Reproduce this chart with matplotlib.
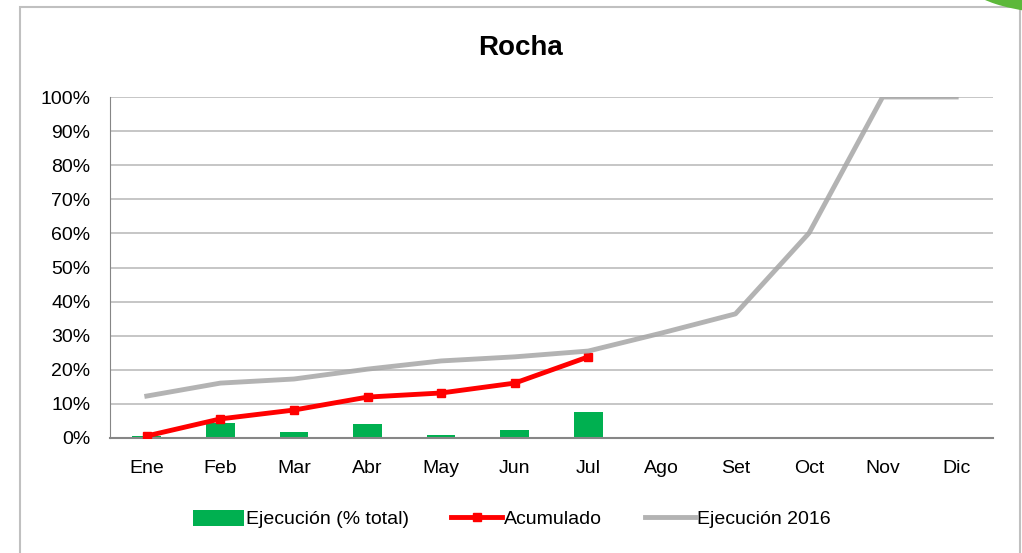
import numpy as np
import matplotlib.pyplot as plt
from matplotlib.patches import Rectangle, Ellipse

meses = ['Ene', 'Feb', 'Mar', 'Abr', 'May', 'Jun', 'Jul', 'Ago', 'Set', 'Oct', 'Nov', 'Dic']
ejecucion = [0.7, 4.5, 1.8, 4.0, 0.8, 2.3, 7.6]
acumulado = [0.6, 5.6, 8.2, 12.0, 13.2, 16.1, 23.8]
ejec_2016 = [12.3, 16.1, 17.3, 20.2, 22.6, 23.8, 25.5, 30.8, 36.4, 60.1, 100, 100]

plt.rcParams['font.family'] = ['Liberation Sans', 'DejaVu Sans']

fig = plt.figure(figsize=(10.22, 5.53), dpi=100)
ax = fig.add_axes([110/1022, 1-438/553, 883/1022, 341/553])

# outer frame of the chart + green corner
fig.patches.append(Rectangle((20/1022, -0.05), 1000/1022, 1.05-7/553, transform=fig.transFigure,
                             fill=False, edgecolor='#c0c0c0', linewidth=1.5))
fig.patches.append(Ellipse((1070/1022, 1+20/553), 210/1022, 68/553, transform=fig.transFigure,
                           facecolor='#5cb83a', edgecolor='none'))

x = np.arange(len(meses))
b = ax.bar(x[:len(ejecucion)], ejecucion, width=0.39, color='#00b050', zorder=2,
           label='Ejecución (% total)')
l1, = ax.plot(x[:len(acumulado)], acumulado, color='#ff0000', linewidth=3.5, marker='s',
              markersize=6, zorder=4, label='Acumulado')
l2, = ax.plot(x, ejec_2016, color='#a6a6a6', linewidth=3.5, alpha=0.85, zorder=5,
              label='Ejecución 2016')

ax.set_xlim(-0.5, 11.5)
ax.set_ylim(0, 100)
ax.set_yticks(np.arange(0, 101, 10))
ax.set_yticklabels([f'{v}%' for v in range(0, 101, 10)], fontsize=14)
ax.set_xticks(x)
ax.set_xticklabels(meses, fontsize=14)
ax.tick_params(axis='y', length=0, pad=14)
ax.tick_params(axis='x', length=0, pad=16)
ax.yaxis.grid(True, color='#bcbcbc', linewidth=1.2)
ax.set_axisbelow(True)
for s in ['top', 'right']:
    ax.spines[s].set_visible(False)
ax.spines['left'].set_color('#868686')
ax.spines['bottom'].set_color('#868686')
ax.spines['bottom'].set_linewidth(1.5)

fig.text(520/1022, 1-48/553, 'Rocha', ha='center', va='center', fontsize=20, fontweight='bold')

fig.legend([b, l1, l2], ['Ejecución (% total)', 'Acumulado', 'Ejecución 2016'],
           loc='center', bbox_to_anchor=(512/1022, 1-519/553), ncol=3, frameon=False,
           fontsize=14, handlelength=2.6, handleheight=0.9, handletextpad=0.1,
           columnspacing=2.2)

fig.savefig('out.png', dpi=100)
